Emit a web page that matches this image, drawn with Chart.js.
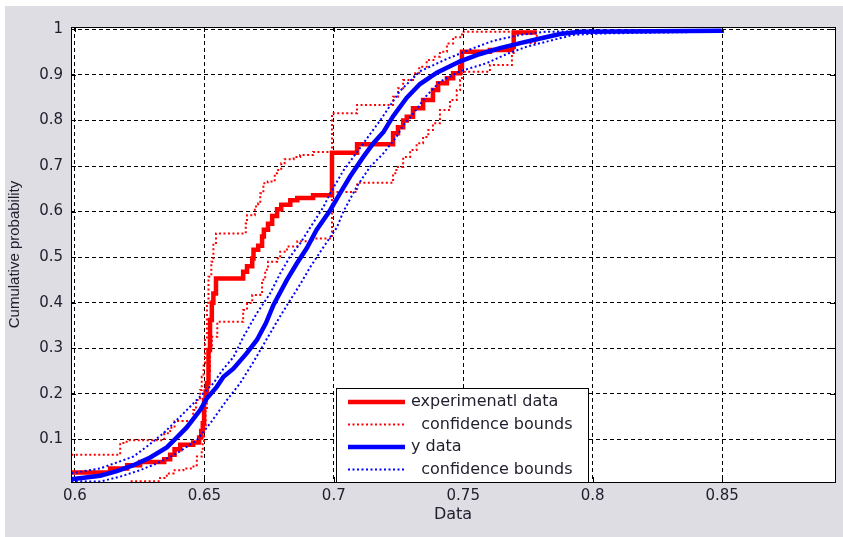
<!DOCTYPE html>
<html>
<head>
<meta charset="utf-8">
<script src="https://cdn.jsdelivr.net/npm/chart.js@4.4.0/dist/chart.umd.min.js"></script>
<style>
  html, body { margin: 0; padding: 0; background: #fff; }
  #wrap { width: 843px; height: 537px; }
</style>
</head>
<body>
<div id="wrap"><canvas id="cdf" width="843" height="537"></canvas></div>
<script>
// axis ticks
const xTicks = [0.6, 0.65, 0.7, 0.75, 0.8, 0.85];
const xTickLabels = ['0.6', '0.65', '0.7', '0.75', '0.8', '0.85'];
const yTicks = [0.1, 0.2, 0.3, 0.4, 0.5, 0.6, 0.7, 0.8, 0.9, 1];
const yTickLabels = ['0.1', '0.2', '0.3', '0.4', '0.5', '0.6', '0.7', '0.8', '0.9', '1'];

// experimental data - empirical cdf (stairs)
const expX = [0.5986, 0.6136, 0.6202, 0.6252, 0.6345, 0.6368, 0.6385, 0.6407, 0.6457, 0.6480, 0.6488, 0.6494, 0.6499, 0.6505, 0.6510, 0.6516, 0.6522, 0.6529, 0.6535, 0.6545, 0.6650, 0.6665, 0.6685, 0.6690, 0.6708, 0.6723, 0.6730, 0.6746, 0.6762, 0.6781, 0.6797, 0.6832, 0.6859, 0.6920, 0.6993, 0.7090, 0.7229, 0.7248, 0.7268, 0.7282, 0.7306, 0.7345, 0.7383, 0.7403, 0.7437, 0.7461, 0.7488, 0.7495, 0.7603, 0.7688, 0.7695, 0.7784];
const expY = [0.027, 0.036, 0.043, 0.050, 0.056, 0.066, 0.078, 0.088, 0.093, 0.104, 0.118, 0.135, 0.186, 0.205, 0.223, 0.296, 0.362, 0.400, 0.420, 0.453, 0.468, 0.480, 0.497, 0.516, 0.525, 0.545, 0.560, 0.573, 0.590, 0.605, 0.615, 0.625, 0.630, 0.636, 0.729, 0.748, 0.772, 0.785, 0.800, 0.808, 0.827, 0.845, 0.867, 0.882, 0.893, 0.904, 0.918, 0.951, 0.955, 0.962, 0.993, 0.993];

// experimental data - confidence bounds
const expUpX = [0.5986, 0.6175, 0.6200, 0.6345, 0.6368, 0.6385, 0.6457, 0.6468, 0.6484, 0.6490, 0.6497, 0.6503, 0.6510, 0.6516, 0.6527, 0.6535, 0.6545, 0.6660, 0.6665, 0.6695, 0.6708, 0.6716, 0.6728, 0.6745, 0.6772, 0.6781, 0.6797, 0.6810, 0.6845, 0.6870, 0.6920, 0.6993, 0.7090, 0.7229, 0.7248, 0.7268, 0.7310, 0.7330, 0.7359, 0.7385, 0.7410, 0.7437, 0.7461, 0.7495, 0.7784];
const expUpY = [0.066, 0.092, 0.098, 0.113, 0.125, 0.140, 0.164, 0.186, 0.208, 0.237, 0.267, 0.318, 0.400, 0.457, 0.490, 0.527, 0.552, 0.574, 0.592, 0.611, 0.618, 0.640, 0.662, 0.666, 0.684, 0.691, 0.706, 0.715, 0.720, 0.724, 0.731, 0.816, 0.834, 0.852, 0.871, 0.889, 0.904, 0.918, 0.933, 0.940, 0.951, 0.969, 0.983, 0.995, 0.995];
const expLoX = [0.5986, 0.6214, 0.6329, 0.6355, 0.6381, 0.6419, 0.6458, 0.6471, 0.6490, 0.6494, 0.6499, 0.6505, 0.6510, 0.6516, 0.6522, 0.6529, 0.6550, 0.6650, 0.6665, 0.6685, 0.6716, 0.6723, 0.6735, 0.6746, 0.6781, 0.6793, 0.6819, 0.6859, 0.6920, 0.6993, 0.7090, 0.7229, 0.7242, 0.7268, 0.7295, 0.7320, 0.7345, 0.7365, 0.7383, 0.7410, 0.7449, 0.7475, 0.7488, 0.7495, 0.7603, 0.7688, 0.7695, 0.7784];
const expLoY = [0.0, 0.008, 0.015, 0.025, 0.032, 0.036, 0.043, 0.062, 0.076, 0.092, 0.130, 0.164, 0.210, 0.250, 0.300, 0.325, 0.358, 0.384, 0.399, 0.417, 0.420, 0.450, 0.472, 0.490, 0.497, 0.512, 0.523, 0.535, 0.541, 0.643, 0.663, 0.684, 0.698, 0.720, 0.735, 0.750, 0.764, 0.779, 0.794, 0.823, 0.845, 0.867, 0.889, 0.907, 0.922, 0.948, 0.970, 0.990];

// y data - empirical cdf (dense, drawn as a line)
const yDataX = [0.5986, 0.6098, 0.6162, 0.6226, 0.6291, 0.6355, 0.6394, 0.6432, 0.6484, 0.6510, 0.6548, 0.6574, 0.6612, 0.6664, 0.6703, 0.6738, 0.6767, 0.6819, 0.6857, 0.6896, 0.6934, 0.6986, 0.7024, 0.7063, 0.7114, 0.7153, 0.7192, 0.7230, 0.7282, 0.7333, 0.7398, 0.7488, 0.7565, 0.7642, 0.7720, 0.7797, 0.7874, 0.7952, 0.8498, 0.8498];
const yDataY = [0.012, 0.020, 0.030, 0.043, 0.060, 0.082, 0.104, 0.126, 0.164, 0.190, 0.215, 0.237, 0.255, 0.289, 0.318, 0.355, 0.395, 0.450, 0.486, 0.520, 0.560, 0.603, 0.640, 0.677, 0.720, 0.750, 0.775, 0.810, 0.850, 0.880, 0.905, 0.930, 0.946, 0.959, 0.970, 0.980, 0.990, 0.995, 0.997, 1.0];

// y data - confidence bounds
const yUpX = [0.5986, 0.6098, 0.6226, 0.6278, 0.6342, 0.6381, 0.6432, 0.6484, 0.6535, 0.6574, 0.6612, 0.6651, 0.6703, 0.6754, 0.6793, 0.6831, 0.6870, 0.6909, 0.6960, 0.6986, 0.7037, 0.7102, 0.7140, 0.7179, 0.7256, 0.7333, 0.7436, 0.7526, 0.7616, 0.7720, 0.7822, 0.8498];
const yUpY = [0.025, 0.036, 0.062, 0.084, 0.113, 0.135, 0.164, 0.194, 0.223, 0.255, 0.280, 0.325, 0.377, 0.420, 0.464, 0.501, 0.530, 0.565, 0.610, 0.640, 0.690, 0.740, 0.770, 0.800, 0.865, 0.908, 0.935, 0.956, 0.975, 0.988, 0.995, 0.998];
const yLoX = [0.5986, 0.6098, 0.6175, 0.6252, 0.6317, 0.6394, 0.6471, 0.6523, 0.6587, 0.6638, 0.6690, 0.6741, 0.6793, 0.6831, 0.6870, 0.6909, 0.6960, 0.7012, 0.7037, 0.7089, 0.7140, 0.7192, 0.7243, 0.7269, 0.7307, 0.7359, 0.7410, 0.7488, 0.7591, 0.7668, 0.7745, 0.7848, 0.7925, 0.8029, 0.8233, 0.8498];
const yLoY = [0.008, 0.007, 0.018, 0.032, 0.047, 0.069, 0.098, 0.135, 0.186, 0.223, 0.270, 0.320, 0.370, 0.405, 0.440, 0.478, 0.522, 0.565, 0.600, 0.655, 0.698, 0.728, 0.765, 0.790, 0.815, 0.855, 0.885, 0.908, 0.926, 0.946, 0.962, 0.977, 0.988, 0.991, 0.993, 0.995];

const legendRows = [0, 1, 3, 4]; // dataset index shown in each legend row

const TEXT = '#1e1e2c';
const RED = '#ff0000';
const BLUE = '#0000ff';

function pts(xs, ys) {
    return xs.map((x, i) => ({ x: x, y: ys[i] }));
}

// gray figure background + white axes
const backdrop = {
    id: 'backdrop',
    beforeDraw(chart) {
        const { ctx, chartArea: a } = chart;
        ctx.save();
        ctx.fillStyle = '#ffffff';
        ctx.fillRect(0, 0, chart.width, chart.height);
        ctx.fillStyle = '#dedde3';
        ctx.fillRect(5, 6, chart.width - 5, chart.height - 6);
        ctx.fillStyle = '#ffffff';
        ctx.fillRect(a.left, a.top, a.right - a.left, a.bottom - a.top);
        ctx.restore();
    }
};

// axes box, inner tick marks, then the legend box on top
const boxAndLegend = {
    id: 'boxAndLegend',
    afterDatasetsDraw(chart) {
        const { ctx, chartArea: a, scales: { x, y } } = chart;
        ctx.save();
        ctx.strokeStyle = '#000';
        ctx.lineWidth = 1;
        ctx.setLineDash([]);
        ctx.strokeRect(Math.round(a.left) + 0.5, Math.round(a.top) + 0.5,
            Math.round(a.right - a.left), Math.round(a.bottom - a.top));
        ctx.beginPath();
        xTicks.forEach(v => {
            const px = Math.round(x.getPixelForValue(v)) + 0.5;
            ctx.moveTo(px, a.bottom); ctx.lineTo(px, a.bottom - 5);
            ctx.moveTo(px, a.top); ctx.lineTo(px, a.top + 5);
        });
        yTicks.forEach(v => {
            const py = Math.round(y.getPixelForValue(v)) + 0.5;
            ctx.moveTo(a.left, py); ctx.lineTo(a.left + 5, py);
            ctx.moveTo(a.right, py); ctx.lineTo(a.right - 5, py);
        });
        ctx.stroke();

        // legend
        const left = 336, top = 388, right = 588, bottom = Math.round(a.bottom);
        ctx.fillStyle = '#ffffff';
        ctx.fillRect(left, top, right - left, bottom - top);
        ctx.strokeRect(left + 0.5, top + 0.5, right - left, bottom - top);
        ctx.font = '16px "DejaVu Sans"';
        ctx.textBaseline = 'middle';
        legendRows.forEach((di, i) => {
            const ds = chart.data.datasets[di];
            const ly = 402 + i * 22.5;
            ctx.beginPath();
            ctx.setLineDash(ds.borderDash || []);
            ctx.lineWidth = ds.borderWidth;
            ctx.strokeStyle = ds.borderColor;
            ctx.moveTo(348, ly);
            ctx.lineTo(405, ly);
            ctx.stroke();
            ctx.setLineDash([]);
            ctx.fillStyle = TEXT;
            ctx.fillText(ds.label, 411, ly);
        });
        ctx.restore();
    }
};

const tickFont = { family: 'DejaVu Sans', size: 15 };

new Chart(document.getElementById('cdf'), {
    type: 'line',
    data: {
        datasets: [
            { label: 'experimenatl data', data: pts(expX, expY), borderColor: RED, borderWidth: 4.5, stepped: 'before', pointRadius: 0, order: 6 },
            { label: '  confidence bounds', data: pts(expUpX, expUpY), borderColor: RED, borderWidth: 2, borderDash: [2, 2.5], stepped: 'before', pointRadius: 0, order: 5 },
            { label: '  confidence bounds', data: pts(expLoX, expLoY), borderColor: RED, borderWidth: 2, borderDash: [2, 2.5], stepped: 'before', pointRadius: 0, order: 4 },
            { label: 'y data', data: pts(yDataX, yDataY), borderColor: BLUE, borderWidth: 4.5, pointRadius: 0, order: 3 },
            { label: '  confidence bounds', data: pts(yUpX, yUpY), borderColor: BLUE, borderWidth: 2, borderDash: [2, 2.5], pointRadius: 0, order: 2 },
            { label: '  confidence bounds', data: pts(yLoX, yLoY), borderColor: BLUE, borderWidth: 2, borderDash: [2, 2.5], pointRadius: 0, order: 1 }
        ]
    },
    options: {
        responsive: false,
        animation: false,
        devicePixelRatio: 1,
        layout: { padding: { left: 0, top: 27, right: 8, bottom: 0 } },
        plugins: {
            legend: { display: false },
            tooltip: { enabled: false }
        },
        scales: {
            x: {
                type: 'linear',
                min: 0.5985,
                max: 0.8936,
                afterBuildTicks: s => { s.ticks = xTicks.map(v => ({ value: v })); },
                afterFit: s => { s.height = 55; },
                grid: { color: '#000', lineWidth: 1, drawTicks: false },
                border: { display: false, dash: [4, 3] },
                ticks: {
                    autoSkip: false, maxRotation: 0, padding: 5,
                    color: TEXT, font: tickFont,
                    callback: (v, i) => xTickLabels[i]
                },
                title: {
                    display: true, text: 'Data', color: TEXT,
                    font: { family: 'DejaVu Sans', size: 16 },
                    padding: { top: 0, bottom: 13 }
                }
            },
            y: {
                type: 'linear',
                min: 0.0061,
                max: 1.0053,
                afterBuildTicks: s => { s.ticks = yTicks.map(v => ({ value: v })); },
                afterFit: s => { s.width = 71; },
                grid: { color: '#000', lineWidth: 1, drawTicks: false },
                border: { display: false, dash: [4, 3] },
                ticks: {
                    autoSkip: false, padding: 8,
                    color: TEXT, font: tickFont,
                    callback: (v, i) => yTickLabels[i]
                },
                title: {
                    display: true, text: 'Cumulative probability', color: TEXT,
                    font: { family: 'Liberation Sans', size: 15 },
                    padding: { top: 6, bottom: 0 }
                }
            }
        }
    },
    plugins: [backdrop, boxAndLegend]
});
</script>
</body>
</html>
